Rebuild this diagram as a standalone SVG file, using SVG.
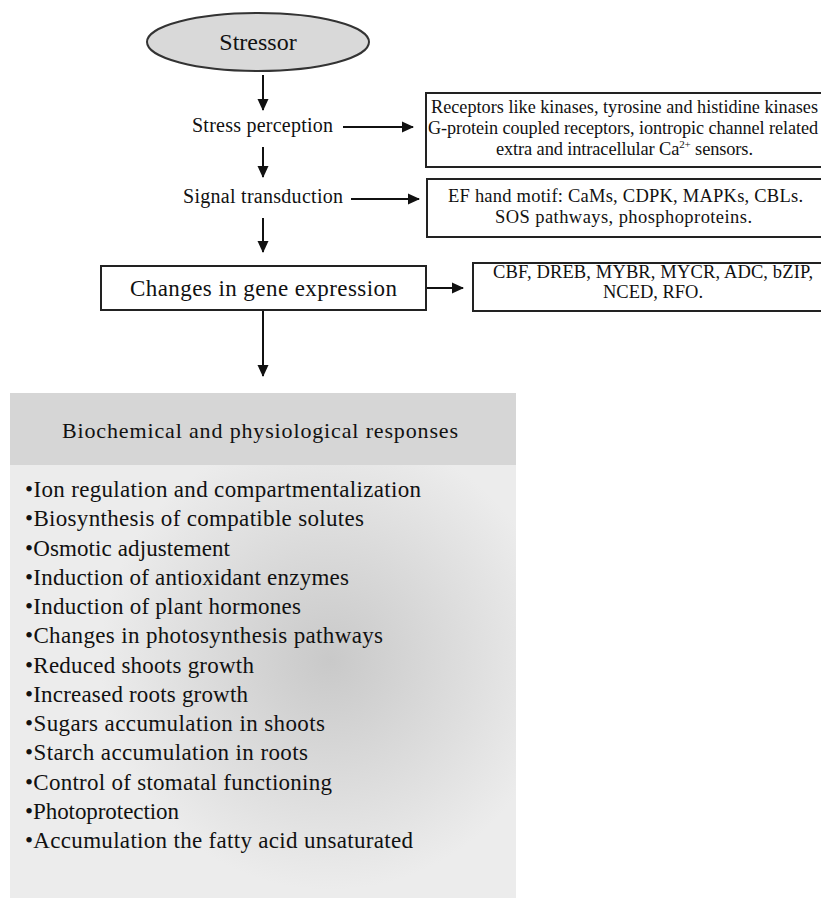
<svg xmlns="http://www.w3.org/2000/svg" width="821" height="898" viewBox="0 0 821 898">
<style>
.t{font-family:"Liberation Serif","Times New Roman",serif;fill:#111}
.box{fill:#fff;stroke:#222;stroke-width:2}
.conn{stroke:#111;stroke-width:2;fill:none;marker-end:url(#ah)}
</style>
<defs>
<marker id="ah" markerWidth="12" markerHeight="12" refX="11" refY="6" orient="auto" markerUnits="userSpaceOnUse">
<path d="M0,0.5 L12,6 L0,11.5 Z" fill="#111"/>
</marker>
<radialGradient id="shade" gradientUnits="userSpaceOnUse" cx="330" cy="660" r="230">
<stop offset="0" stop-color="#c9c9c9"/>
<stop offset="0.55" stop-color="#dcdcdc"/>
<stop offset="1" stop-color="#ececec"/>
</radialGradient>
</defs>
<rect width="821" height="898" fill="#fff"/>

<g id="connectors">
<line class="conn" x1="263" y1="75" x2="263" y2="110"/>
<line class="conn" x1="343" y1="127" x2="413" y2="127"/>
<line class="conn" x1="263" y1="147" x2="263" y2="177"/>
<line class="conn" x1="351" y1="199" x2="419" y2="199"/>
<line class="conn" x1="263" y1="218" x2="263" y2="252"/>
<line class="conn" x1="426" y1="288" x2="463" y2="288"/>
<line class="conn" x1="263" y1="310" x2="263" y2="376"/>
</g>

<g id="stressor">
<ellipse cx="258" cy="42" rx="111" ry="29" fill="#d9d9d9" stroke="#333" stroke-width="2"/>
<text class="t" x="258" y="50" font-size="24" text-anchor="middle">Stressor</text>
</g>

<g id="stress-perception">
<text class="t" x="192" y="132" font-size="20" textLength="141">Stress perception</text>
</g>

<g id="receptors">
<rect class="box" x="426" y="93" width="400" height="74"/>
<text class="t" x="431" y="113" font-size="18.2" textLength="387">Receptors like kinases, tyrosine and histidine kinases</text>
<text class="t" x="428" y="134" font-size="18.2" textLength="390">G-protein coupled receptors, iontropic channel related</text>
<text class="t" x="496" y="155" font-size="18.4" textLength="257">extra and intracellular Ca<tspan font-size="11" dy="-7">2+</tspan><tspan dy="7"> sensors.</tspan></text>
</g>

<g id="signal-transduction">
<text class="t" x="183" y="203" font-size="20" textLength="160">Signal transduction</text>
</g>

<g id="ef-hand">
<rect class="box" x="427" y="179" width="400" height="58"/>
<text class="t" x="448" y="202" font-size="18.5" textLength="355">EF hand motif: CaMs, CDPK, MAPKs, CBLs.</text>
<text class="t" x="495" y="223" font-size="18.5" textLength="257">SOS pathways, phosphoproteins.</text>
</g>

<g id="gene-expression">
<rect class="box" x="101" y="266" width="325" height="44"/>
<text class="t" x="130" y="296" font-size="23" textLength="267">Changes in gene expression</text>
</g>

<g id="genes">
<rect class="box" x="473" y="263" width="360" height="48"/>
<text class="t" x="493" y="278" font-size="18.5" textLength="320">CBF, DREB, MYBR, MYCR, ADC, bZIP,</text>
<text class="t" x="603" y="298" font-size="18.5" textLength="100">NCED, RFO.</text>
</g>

<g id="responses">
<rect x="10" y="393" width="506" height="505" fill="url(#shade)"/>
<rect x="10" y="393" width="506" height="72" fill="#d6d6d6"/>
<text class="t" x="62" y="438" font-size="22" textLength="396">Biochemical and physiological responses</text>
<g font-size="23">
<text class="t" x="25" y="497" textLength="396">•Ion regulation and compartmentalization</text>
<text class="t" x="25" y="526" textLength="339">•Biosynthesis of compatible solutes</text>
<text class="t" x="25" y="556" textLength="205">•Osmotic adjustement</text>
<text class="t" x="25" y="585" textLength="324">•Induction of antioxidant enzymes</text>
<text class="t" x="25" y="614" textLength="276">•Induction of plant hormones</text>
<text class="t" x="25" y="643" textLength="358">•Changes in photosynthesis pathways</text>
<text class="t" x="25" y="673" textLength="229">•Reduced shoots growth</text>
<text class="t" x="25" y="702" textLength="223">•Increased roots growth</text>
<text class="t" x="25" y="731" textLength="300">•Sugars accumulation in shoots</text>
<text class="t" x="25" y="760" textLength="283">•Starch accumulation in roots</text>
<text class="t" x="25" y="790" textLength="307">•Control of stomatal functioning</text>
<text class="t" x="25" y="819" textLength="154">•Photoprotection</text>
<text class="t" x="25" y="848" textLength="388">•Accumulation the fatty acid unsaturated</text>
</g>
</g>
</svg>
